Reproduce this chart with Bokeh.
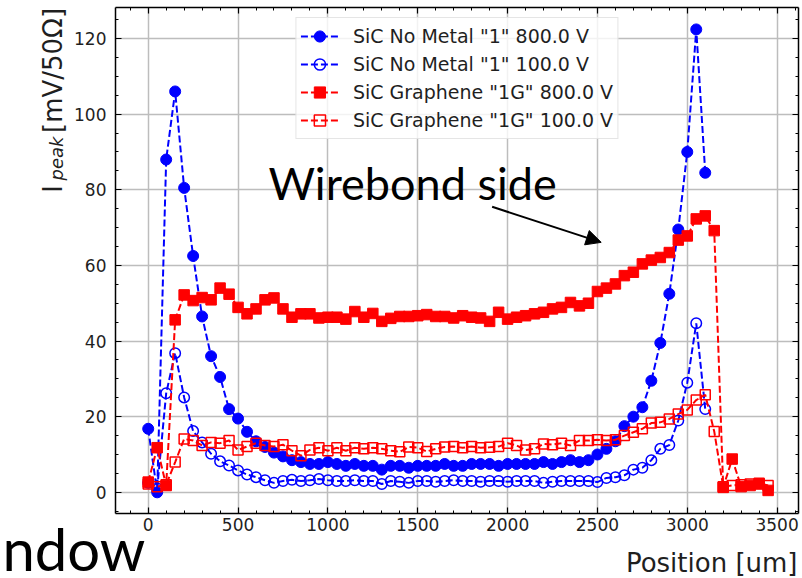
import math
from bokeh.plotting import figure
from bokeh.models import (Range1d, LinearAxis, SingleIntervalTicker, Grid, Legend,
                          LegendItem, Label, Title, Arrow, NormalHead, CustomLabelingPolicy)
from bokeh.embed import file_html
from bokeh.resources import INLINE

# ---------------- data ----------------
position_um = [0, 50, 100, 150, 200, 250, 300, 350, 400, 450,
               500, 550, 600, 650, 700, 750, 800, 850, 900, 950,
               1000, 1050, 1100, 1150, 1200, 1250, 1300, 1350, 1400, 1450,
               1500, 1550, 1600, 1650, 1700, 1750, 1800, 1850, 1900, 1950,
               2000, 2050, 2100, 2150, 2200, 2250, 2300, 2350, 2400, 2450,
               2500, 2550, 2600, 2650, 2700, 2750, 2800, 2850, 2900, 2950,
               3000, 3050, 3100, 3150, 3200, 3250, 3300, 3350, 3400, 3450]

nometal_800 = [16.8, 0.0, 88.0, 106.0, 80.5, 62.5, 46.5, 36.0, 30.5, 22.0,
               19.5, 16.0, 13.5, 12.0, 10.5, 9.5, 8.5, 8.0, 7.5, 7.5,
               8.0, 7.5, 7.0, 7.5, 7.0, 7.0, 6.0, 7.0, 7.0, 6.5,
               7.0, 7.0, 7.0, 7.5, 7.0, 7.0, 7.5, 7.5, 7.5, 7.0,
               7.5, 7.5, 7.5, 7.5, 8.0, 7.5, 8.0, 8.5, 8.0, 8.5,
               10.0, 11.5, 13.5, 17.5, 20.0, 22.5, 29.5, 39.5, 52.5, 69.5,
               90.0, 122.4, 84.5]

nometal_100 = [2.5, 1.0, 26.2, 36.8, 25.1, 16.2, 13.2, 10.2, 8.2, 7.1,
               5.8, 4.7, 4.0, 3.2, 2.5, 3.0, 3.3, 3.0, 3.2, 3.5,
               3.2, 3.0, 3.0, 3.2, 3.0, 3.0, 2.2, 3.0, 2.8, 2.5,
               3.0, 3.0, 2.8, 3.0, 3.2, 3.0, 3.0, 2.8, 3.0, 3.0,
               2.8, 3.0, 3.0, 3.0, 2.5, 2.8, 3.0, 3.0, 3.0, 3.0,
               2.7, 3.8, 4.0, 4.5, 6.0, 6.5, 8.5, 11.5, 12.5, 19.0,
               29.0, 44.7, 22.0]

graphene_800 = [2.7, 11.8, 1.8, 45.6, 52.2, 50.7, 51.5, 50.9, 54.0, 52.4,
                48.9, 47.2, 48.5, 50.9, 51.4, 48.5, 46.3, 47.2, 47.2, 46.1,
                46.3, 46.3, 45.8, 47.8, 46.3, 47.3, 45.2, 46.0, 46.5, 46.5,
                46.7, 47.0, 46.5, 46.5, 46.1, 46.7, 46.3, 46.1, 45.2, 47.6,
                45.8, 46.3, 46.7, 47.2, 47.6, 48.5, 48.9, 50.2, 49.3, 50.0,
                53.1, 54.0, 55.1, 57.3, 58.2, 60.4, 61.4, 62.1, 63.4, 66.7,
                67.8, 72.3, 73.1, 69.2, 1.3, 8.8, 1.5, 1.8, 2.2, 0.5]

graphene_100 = [2.2, 1.5, 2.0, 8.0, 14.1, 13.7, 12.4, 13.2, 13.0, 13.7,
                11.2, 12.1, 13.0, 12.4, 12.1, 12.6, 11.0, 9.7, 11.2, 11.8,
                11.0, 11.8, 11.0, 11.8, 11.5, 11.8, 11.5, 11.0, 10.7, 12.0,
                11.8, 10.8, 11.5, 12.0, 12.1, 11.8, 12.1, 11.8, 11.9, 12.1,
                13.0, 12.4, 11.2, 11.5, 12.8, 12.6, 13.0, 12.4, 13.7, 13.7,
                13.9, 13.7, 13.9, 15.0, 15.9, 16.8, 18.3, 18.5, 19.4, 20.7,
                21.8, 24.4, 25.8, 16.1, 1.5, 1.8, 2.0, 2.2, 2.4, 1.8]

series_labels = ['SiC No Metal "1" 800.0 V', 'SiC No Metal "1" 100.0 V',
                 'SiC Graphene "1G" 800.0 V', 'SiC Graphene "1G" 100.0 V']

x_ticks_interval = 500
y_ticks_interval = 20

# ---------------- figure ----------------
TXT = "#1f1f1f"
p = figure(width=802, height=578, output_backend="svg", toolbar_location=None,
           x_range=Range1d(-182, 3619), y_range=Range1d(-5.6, 128.2),
           x_axis_type=None, y_axis_type=None,
           min_border_left=115, min_border_right=4, min_border_top=7, min_border_bottom=65)
p.outline_line_color = None
p.background_fill_color = "white"
p.border_fill_color = "white"

HIDE_LABELS = """
try { return new indices.constructor(indices.size) } catch (e) { return indices }
"""


def make_axis(interval, nminor, labels):
    ax = LinearAxis(ticker=SingleIntervalTicker(interval=interval, num_minor_ticks=nminor))
    ax.major_tick_in = 6
    ax.major_tick_out = 0
    ax.minor_tick_in = 3
    ax.minor_tick_out = 0
    ax.major_tick_line_width = 1.2
    ax.minor_tick_line_width = 1
    ax.axis_line_width = 1.5
    ax.axis_line_color = "black"
    ax.major_tick_line_color = "black"
    ax.minor_tick_line_color = "black"
    ax.major_label_text_font = "DejaVu Sans"
    ax.major_label_text_font_size = "17px"
    ax.major_label_text_color = TXT
    if not labels:
        ax.major_label_text_font_size = "0px"
        ax.major_label_standoff = 0
        ax.major_label_policy = CustomLabelingPolicy(code=HIDE_LABELS)
    return ax


xb = make_axis(x_ticks_interval, 5, True)
xb.major_label_standoff = 4
yl = make_axis(y_ticks_interval, 4, True)
yl.major_label_standoff = 9
xt = make_axis(x_ticks_interval, 5, False)
yr = make_axis(y_ticks_interval, 4, False)
p.add_layout(xb, "below")
p.add_layout(yl, "left")
p.add_layout(xt, "above")
p.add_layout(yr, "right")

for dim, iv in ((0, x_ticks_interval), (1, y_ticks_interval)):
    g = Grid(dimension=dim, ticker=SingleIntervalTicker(interval=iv))
    g.grid_line_color = "#bdbdbd"
    g.grid_line_width = 1.5
    p.add_layout(g, "center")

BLUE = "#0000ff"
RED = "#ff0000"
DASH = "7 3"

n_nm = len(nometal_800)
items = []

l1 = p.line(position_um[:n_nm], nometal_800, line_color=BLUE, line_width=2, line_dash=DASH)
m1 = p.scatter(position_um[:n_nm], nometal_800, marker="circle", size=11,
               fill_color=BLUE, line_color=BLUE, line_width=1)
items.append(LegendItem(label=series_labels[0], renderers=[l1, m1]))

l2 = p.line(position_um[:n_nm], nometal_100, line_color=BLUE, line_width=2, line_dash=DASH)
m2 = p.scatter(position_um[:n_nm], nometal_100, marker="circle", size=10.5,
               fill_color=None, line_color=BLUE, line_width=1.5)
items.append(LegendItem(label=series_labels[1], renderers=[l2, m2]))

l3 = p.line(position_um, graphene_800, line_color=RED, line_width=2, line_dash=DASH)
m3 = p.scatter(position_um, graphene_800, marker="square", size=10.5,
               fill_color=RED, line_color=RED, line_width=1)
items.append(LegendItem(label=series_labels[2], renderers=[l3, m3]))

l4 = p.line(position_um, graphene_100, line_color=RED, line_width=2, line_dash=DASH)
m4 = p.scatter(position_um, graphene_100, marker="square", size=10,
               fill_color=None, line_color=RED, line_width=1.5)
items.append(LegendItem(label=series_labels[3], renderers=[l4, m4]))

legend = Legend(items=items, location="top_center", margin=10,
                padding=4, spacing=0, glyph_width=38, glyph_height=28, label_height=28,
                label_standoff=15,
                label_text_font="DejaVu Sans", label_text_font_size="19px",
                label_text_color=TXT,
                border_line_color="#cccccc", border_line_width=1,
                background_fill_color="white", background_fill_alpha=0.8)
p.add_layout(legend, "center")

# ---------------- annotations ----------------
p.add_layout(Label(x=669, y=81.9, text="Wirebond side", text_font="Lato",
                   text_font_size="45px", text_color="black", text_baseline="alphabetic",
                   text_align="left"))
p.add_layout(Arrow(end=NormalHead(size=15, fill_color="black", line_color="black"),
                   x_start=1914, y_start=75.5, x_end=2521, y_end=66.1,
                   line_color="black", line_width=2))

# y label (top aligned, matplotlib style) in the left panel so it is not clipped
EN = "\u2002"
p.add_layout(Label(x=-530, y=128.1, text="I" + EN * 4 + "[mV/50Ω]", text_font="DejaVu Sans",
                   text_font_size="26px", text_color=TXT, text_align="right",
                   text_baseline="alphabetic", angle=math.pi / 2), "left")
p.add_layout(Label(x=-512, y=94.1, text="peak", text_font="DejaVu Sans",
                   text_font_size="18px", text_font_style="italic", text_color=TXT,
                   text_align="right", text_baseline="alphabetic", angle=math.pi / 2), "left")

# bottom texts as titles with reduced panel footprint (standoff)
p.add_layout(Title(text="ndow", align="left", vertical_align="bottom", offset=-113,
                   standoff=-44, text_font="Lato", text_font_size="58px",
                   text_font_style="normal", text_color="black"), "below")
p.add_layout(Title(text="Position [um]", align="right", vertical_align="bottom", offset=1,
                   standoff=-29, text_font="DejaVu Sans", text_font_size="26px",
                   text_font_style="normal", text_color=TXT), "below")

open("out.html", "w").write(file_html(p, INLINE))
